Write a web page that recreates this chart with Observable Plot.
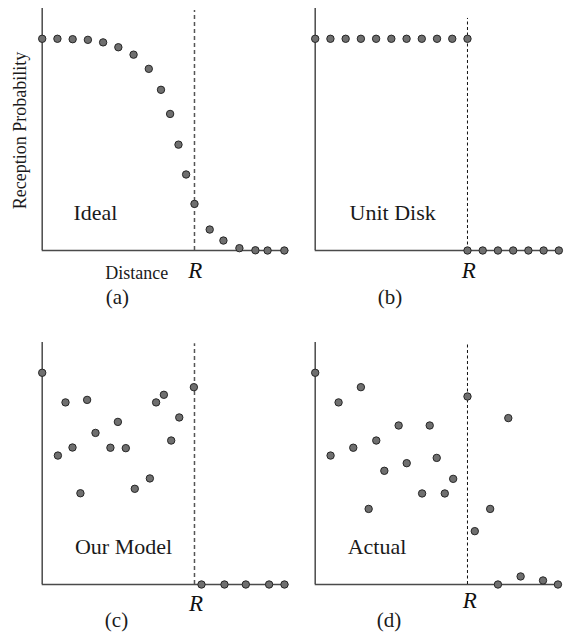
<!DOCTYPE html>
<html>
<head>
<meta charset="utf-8">
<script src="https://cdn.jsdelivr.net/npm/d3@7"></script>
<script src="https://cdn.jsdelivr.net/npm/@observablehq/plot@0.6"></script>
<style>
  html, body { margin: 0; padding: 0; background: #fff; }
  #wrap { position: relative; width: 568px; height: 634px; overflow: hidden; }
  #wrap > div { position: absolute; }
</style>
</head>
<body>
<div id="wrap">
  <div id="pa" style="left:0px;top:0px"></div>
  <div id="pb" style="left:272.6px;top:0px"></div>
  <div id="pc" style="left:0px;top:333.7px"></div>
  <div id="pd" style="left:272.6px;top:333.7px"></div>
</div>
<script>
// Distance in units where R = 10; reception probability in [0, 1]
const R = 10;

// (a) Ideal
const idealX = [0, 1, 2, 3, 4, 5, 6, 7, 7.8, 8.4, 8.95, 9.45, 10, 11, 11.9, 12.95, 14, 14.8, 15.9];
const idealY = [1, 1, 0.998, 0.995, 0.983, 0.96, 0.925, 0.858, 0.759, 0.645, 0.5, 0.359, 0.22, 0.099, 0.047, 0.011, 0.001, 0, 0];

// (b) Unit Disk
const unitX = [0, 1, 2, 3, 4, 5, 6, 7, 8, 9, 10, 10, 11, 12, 13, 14, 15, 16];
const unitY = [1, 1, 1, 1, 1, 1, 1, 1, 1, 1, 1, 0, 0, 0, 0, 0, 0, 0];

// (c) Our Model
const modelX = [0, 1.03, 1.53, 1.99, 2.51, 2.95, 3.5, 4.48, 4.97, 5.49, 6.08, 7.07, 7.48, 7.99, 8.47, 9.0, 9.96, 10.46, 11.97, 13.37, 14.9, 15.91];
const modelY = [1, 0.609, 0.86, 0.647, 0.431, 0.872, 0.716, 0.646, 0.768, 0.644, 0.452, 0.501, 0.86, 0.896, 0.68, 0.789, 0.932, 0, 0, 0, 0, 0];

// (d) Actual
const actualX = [0, 1.01, 1.535, 2.5, 3.0, 3.51, 4.01, 4.54, 5.48, 6.01, 7.02, 7.52, 7.98, 8.51, 9.06, 10, 10.48, 11.49, 12.68, 12.0, 13.49, 14.96, 15.94];
const actualY = [1, 0.609, 0.86, 0.646, 0.932, 0.357, 0.68, 0.537, 0.751, 0.573, 0.43, 0.751, 0.598, 0.43, 0.499, 0.888, 0.252, 0.357, 0.786, 0, 0.038, 0.019, 0];

// Labels
const panelTitles = ["Ideal", "Unit Disk", "Our Model", "Actual"];
const panelLetters = ["(a)", "(b)", "(c)", "(d)"];
const xLabel = "Distance";
const yLabel = "Reception Probability";
const rLabel = "R";

const xMax = 16.2, yTop = 1.143;
const font = "'Liberation Serif', 'Times New Roman', serif";

function panel({xs, ys, title, titleX, letter, letterX, letterY, rX, rY, dashColor, dashTop, dashWidth, dashArray, extra = []}) {
  const pts = xs.map((x, i) => ({x, y: ys[i]}));
  return Plot.plot({
    width: 292,
    height: 320,
    marginLeft: 41.7,
    marginRight: 3.6,
    marginTop: 8,
    marginBottom: 70,
    x: {domain: [0, xMax], axis: null},
    y: {domain: [0, yTop], axis: null},
    style: {background: "transparent", overflow: "visible", fontFamily: font},
    marks: [
      Plot.ruleX([0], {y1: 0, y2: yTop, stroke: "#4a4a4a", strokeWidth: 1.5}),
      Plot.ruleY([0], {x1: 0, x2: xMax, stroke: "#4a4a4a", strokeWidth: 1.5}),
      Plot.ruleX([R], {y1: 0, y2: dashTop, stroke: dashColor, strokeWidth: dashWidth, strokeDasharray: dashArray}),
      Plot.dot(pts, {x: "x", y: "y", r: 3.7, fill: "#6f6f6f", stroke: "#262626", strokeWidth: 1}),
      Plot.text([title], {x: titleX, y: 0.142, text: d => d, fontSize: 22, lineAnchor: "bottom", fill: "#1a1a1a"}),
      Plot.text([rLabel], {x: rX, y: rY, text: d => d, fontSize: 23, fontStyle: "italic", lineAnchor: "bottom", fill: "#111"}),
      Plot.text([letter], {x: letterX, y: letterY, text: d => d, fontSize: 21, lineAnchor: "bottom", fill: "#1a1a1a"}),
      ...extra
    ]
  });
}

document.getElementById("pa").append(panel({
  xs: idealX, ys: idealY, title: panelTitles[0], titleX: 3.5,
  letter: panelLetters[0], letterX: 4.94, letterY: -0.255,
  rX: 10.05, rY: -0.132, dashColor: "#555", dashTop: 1.134, dashWidth: 1.5, dashArray: "4,3",
  extra: [
    Plot.text([xLabel], {x: 6.21, y: -0.134, text: d => d, fontSize: 18, lineAnchor: "bottom", fill: "#1a1a1a"}),
    Plot.text([yLabel], {x: -1.42, y: 0.567, text: d => d, fontSize: 18, rotate: -90, fill: "#1a1a1a"})
  ]
}));

document.getElementById("pb").append(panel({
  xs: unitX, ys: unitY, title: panelTitles[1], titleX: 5.09,
  letter: panelLetters[1], letterX: 4.91, letterY: -0.255,
  rX: 10.08, rY: -0.128, dashColor: "#111", dashTop: 1.096, dashWidth: 1, dashArray: "3,2.5"
}));

document.getElementById("pc").append(panel({
  xs: modelX, ys: modelY, title: panelTitles[2], titleX: 5.34,
  letter: panelLetters[2], letterX: 4.88, letterY: -0.203,
  rX: 10.1, rY: -0.123, dashColor: "#555", dashTop: 1.137, dashWidth: 1.5, dashArray: "4,3"
}));

document.getElementById("pd").append(panel({
  xs: actualX, ys: actualY, title: panelTitles[3], titleX: 4.06,
  letter: panelLetters[3], letterX: 4.85, letterY: -0.203,
  rX: 10.15, rY: -0.11, dashColor: "#111", dashTop: 1.137, dashWidth: 1, dashArray: "3,2.5"
}));
</script>
</body>
</html>
